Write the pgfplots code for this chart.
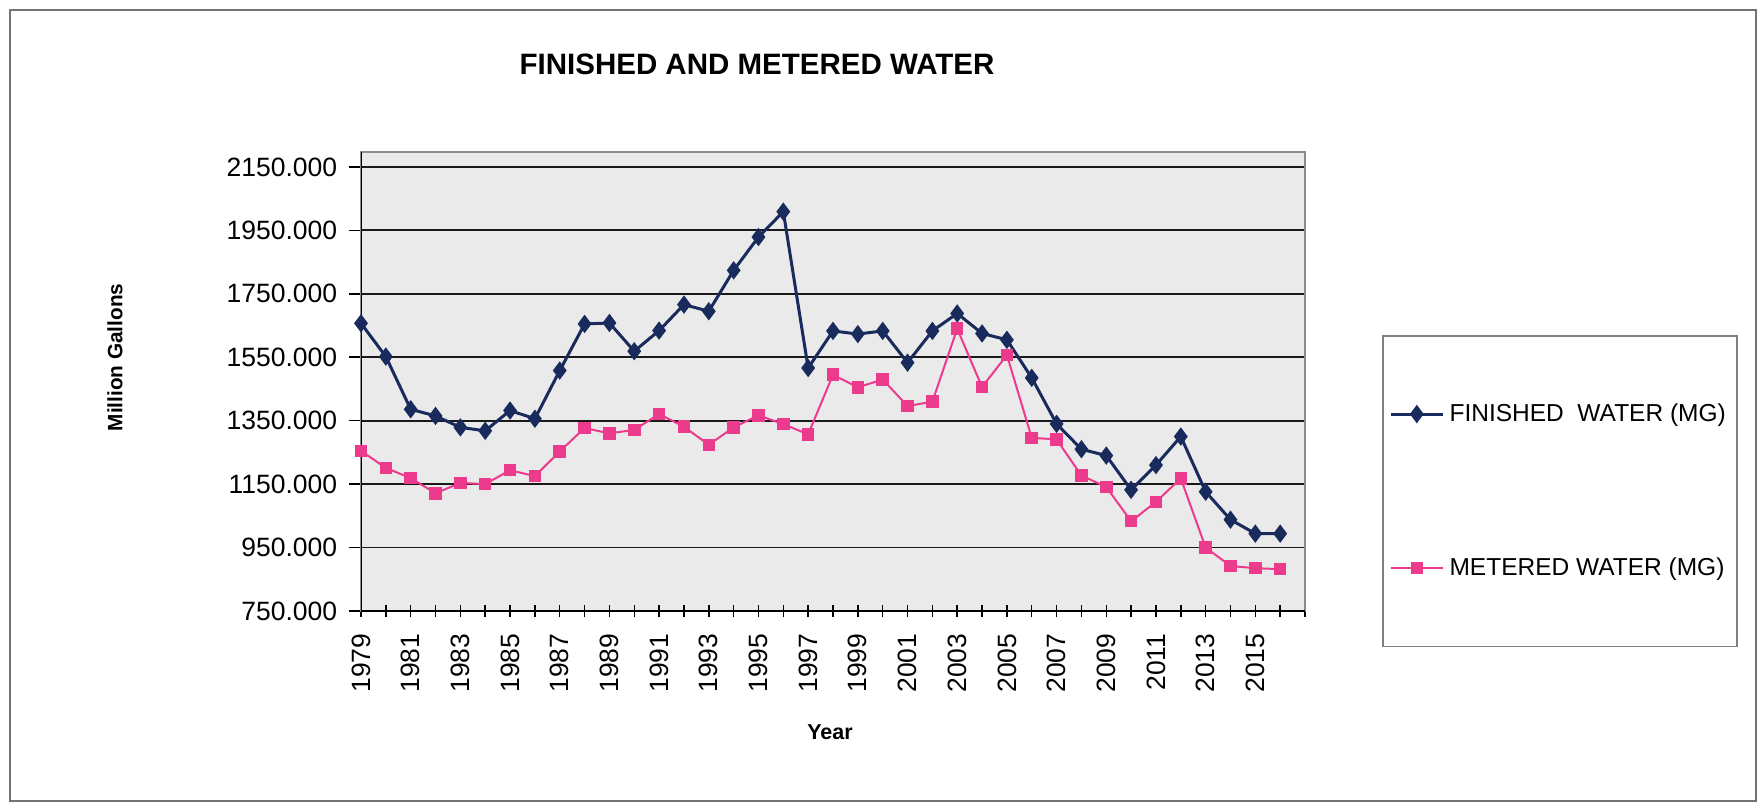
\documentclass[border=0pt]{standalone}
\usepackage{fontspec}
\setmainfont{Liberation Sans}
\usepackage{pgfplots}
\pgfplotsset{compat=1.18}
\usepackage{pgfplotstable}

\pgfplotstableread{
year finished metered
1979 1657 1255
1980 1552 1201
1981 1386 1169
1982 1365 1121
1983 1329 1154
1984 1318 1150
1985 1382 1194
1986 1356 1175
1987 1508 1253
1988 1655 1327
1989 1658 1310
1990 1569 1321
1991 1634 1371
1992 1716 1331
1993 1695 1274
1994 1824 1329
1995 1929 1367
1996 2009 1339
1997 1516 1307
1998 1633 1495
1999 1623 1455
2000 1633 1480
2001 1533 1396
2002 1633 1410
2003 1688 1640
2004 1625 1456
2005 1605 1557
2006 1485 1296
2007 1340 1291
2008 1260 1177
2009 1240 1141
2010 1132 1033
2011 1210 1094
2012 1300 1168
2013 1126 950
2014 1038 892
2015 994 885
2016 994 882
}\datatable

\definecolor{navyline}{RGB}{25,42,92}
\definecolor{pinkline}{RGB}{236,58,140}
\definecolor{plotbg}{RGB}{234,234,234}

\begin{document}
\begin{tikzpicture}
\path[use as bounding box] (0pt,0pt) rectangle (703.2pt,-321.2pt);
\draw[black!55, line width=0.8pt] (4pt,-4pt) rectangle (702.4pt,-320.4pt);
\begin{axis}[
  at={(144.4pt,-244.4pt)}, anchor=south west,
  scale only axis, width=377.6pt, height=183.6pt,
  xmin=1979, xmax=2017, ymin=750, ymax=2197,
  axis background/.style={fill=plotbg},
  axis line style={draw=black!45, line width=0.6pt},
  ytick={750,950,1150,1350,1550,1750,1950,2150},
  yticklabels={750.000,950.000,1150.000,1350.000,1550.000,1750.000,1950.000,2150.000},
  xtick={1979,1981,1983,1985,1987,1989,1991,1993,1995,1997,1999,2001,2003,2005,2007,2009,2011,2013,2015},
  xticklabels={1979,1981,1983,1985,1987,1989,1991,1993,1995,1997,1999,2001,2003,2005,2007,2009,2011,2013,2015},
  minor xtick={1980,1982,1984,1986,1988,1990,1992,1994,1996,1998,2000,2002,2004,2006,2008,2010,2012,2014,2016,2017},
  xtick pos=bottom, ytick pos=left,
  xtick align=center, ytick align=outside,
  major tick length=5pt, minor tick length=5pt,
  tick style={black, line width=0.6pt},
  ymajorgrids, grid style={black!90, line width=0.7pt},
  ticklabel style={font=\fontsize{10.6}{12}\selectfont},
  xticklabel style={rotate=90, anchor=east, xshift=-3pt},
  yticklabel style={xshift=-1pt},
  every axis title shift=0pt,
  title={FINISHED AND METERED WATER},
  title style={at={(axis description cs:0.4195,1.1917)}, anchor=center, font=\bfseries\fontsize{11.8}{14}\selectfont},
  xlabel={Year},
  xlabel style={at={(axis description cs:0.4968,-0.2636)}, anchor=center, font=\bfseries\fontsize{8.6}{10}\selectfont},
  ylabel={Million Gallons},
  ylabel style={at={(axis description cs:-0.2606,0.5523)}, anchor=center, rotate=0, font=\bfseries\fontsize{8.3}{10}\selectfont},
  legend style={at={(1.0816,0.6013)}, anchor=north west, draw=black!50, line width=0.6pt,
    inner xsep=2.5pt, inner ysep=25pt, row sep=49pt, font=\fontsize{9.8}{12}\selectfont,
    cells={anchor=west}},
  legend image code/.code={\draw[mark repeat=2,mark phase=2,#1] plot coordinates {(0pt,0pt) (10.5pt,0pt) (21pt,0pt)};},
]
\addplot[navyline, line width=1.2pt, mark=diamond*, mark size=2.7pt, mark options={solid, fill=navyline}]
  table[x=year, y=finished] {\datatable};
\addlegendentry{FINISHED\ \ WATER (MG)}
\addplot[pinkline, line width=0.8pt, mark=square*, mark size=2.1pt, mark options={solid, fill=pinkline}]
  table[x=year, y=metered] {\datatable};
\addlegendentry{METERED WATER (MG)}
\draw[black, line width=0.8pt] (rel axis cs:0,1) -- (rel axis cs:0,0) -- (rel axis cs:1,0);
\end{axis}
\end{tikzpicture}
\end{document}
